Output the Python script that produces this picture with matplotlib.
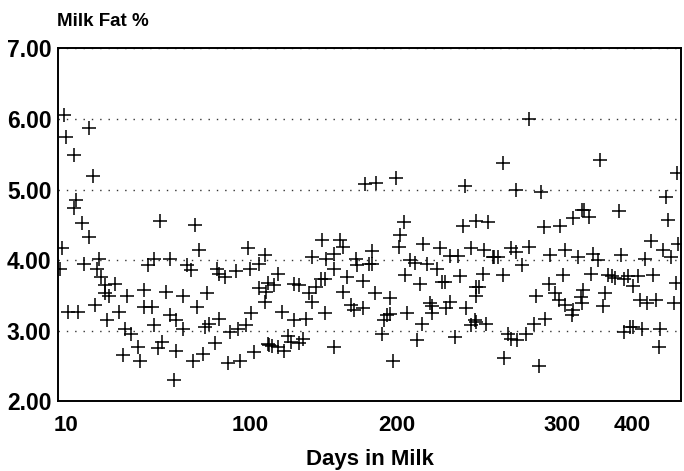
import numpy as np
import matplotlib
matplotlib.use("Agg")
import matplotlib.pyplot as plt

plt.rcParams['font.family'] = ['Liberation Sans', 'DejaVu Sans']

# days in milk / milk fat %
days = [9, 21, 10, 14, 23, 15, 14, 18, 21, 56, 8, 7, 19, 26, 25, 27, 29, 34, 29, 31,
        40, 48, 11, 16, 24, 30, 36, 48, 52, 53, 39, 42, 45, 38, 46, 55, 50, 53,
        73, 75, 61, 69, 71, 99, 110, 84, 85, 88, 93, 100, 106, 59, 67, 79, 74, 106,
        110, 61, 64, 67, 78, 80, 85, 90, 94, 98, 101, 57, 64, 72, 77, 83, 89, 95,
        103, 112, 63,
        178, 149, 161, 163, 142, 152, 157, 157, 172, 173, 181, 119, 112, 116, 130,
        133, 145, 148, 151, 140, 142, 151, 163, 166, 169, 171, 177, 177, 122, 130,
        138, 113, 115, 119, 123, 126, 128, 133, 136, 157, 111,
        186, 199, 241, 204, 202, 201, 216, 226, 232, 237, 240, 248, 245, 183, 183,
        208, 211, 218, 224, 227, 229, 238, 205, 214, 185, 195, 248, 220, 221, 232,
        230, 242, 193, 195, 206, 221, 215, 191, 190, 212, 235, 245, 247, 197, 248,
        280, 264, 272, 287, 255, 289, 299, 316, 328, 253, 258, 259, 261, 269, 272,
        280, 276, 293, 305, 323, 252, 264, 250, 284, 292, 296, 301, 298, 305, 316,
        327, 248, 254, 267, 269, 273, 278, 283, 290, 265, 286, 314,
        355, 465, 449, 452, 331, 338, 381, 427, 466, 444, 456, 345, 352, 384, 419,
        342, 366, 371, 376, 388, 395, 409, 430, 402, 463, 330, 361, 412, 421, 435,
        460, 328, 358, 389, 397, 402, 414, 440, 438]
fat = [6.05, 5.87, 5.75, 5.49, 5.19, 4.85, 4.74, 4.53, 4.33, 4.56, 4.17, 3.88, 3.94, 4.02,
       3.87, 3.76, 3.65, 3.66, 3.53, 3.50, 3.50, 3.58, 3.27, 3.27, 3.36, 3.15, 3.27, 3.34,
       3.34, 3.08, 3.03, 2.95, 2.77, 2.66, 2.58, 2.75, 3.93, 4.01,
       4.50, 4.14, 4.01, 3.93, 3.86, 4.17, 4.08, 3.87, 3.81, 3.76, 3.85, 3.87, 3.94, 3.55,
       3.49, 3.54, 3.34, 3.60, 3.41, 3.22, 3.15, 3.02, 3.06, 3.09, 3.17, 2.99, 3.03, 3.08,
       3.25, 2.84, 2.72, 2.58, 2.67, 2.83, 2.54, 2.58, 2.70, 2.81, 2.30,
       5.08, 4.29, 4.29, 4.19, 4.04, 4.02, 4.09, 3.88, 4.02, 3.93, 3.95, 3.81, 3.68, 3.65,
       3.66, 3.65, 3.62, 3.73, 3.73, 3.53, 3.41, 3.25, 3.55, 3.76, 3.36, 3.29, 3.32, 3.70,
       3.27, 3.16, 3.17, 2.80, 2.78, 2.77, 2.72, 2.92, 2.84, 2.83, 2.88, 2.77, 3.55,
       5.09, 5.16, 5.05, 4.54, 4.35, 4.19, 4.23, 4.17, 4.06, 4.06, 4.48, 4.56, 4.17, 4.13,
       3.95, 4.00, 3.96, 3.95, 3.87, 3.69, 3.69, 3.77, 3.79, 3.66, 3.53, 3.46, 3.49, 3.39,
       3.35, 3.41, 3.32, 3.32, 3.22, 3.24, 3.25, 3.25, 3.10, 3.15, 2.96, 2.87, 2.91, 3.08,
       3.15, 2.58, 3.62,
       6.00, 5.38, 4.99, 4.97, 4.54, 4.47, 4.48, 4.60, 4.71, 4.14, 4.05, 4.04, 4.04, 4.17,
       4.12, 4.19, 3.93, 4.07, 4.15, 4.04, 3.81, 3.79, 3.62, 3.50, 3.66, 3.53, 3.79, 3.43,
       3.36, 3.29, 3.48, 3.13, 3.10, 2.96, 2.89, 2.87, 2.96, 3.09, 3.17, 2.61, 2.50, 3.22,
       5.42, 5.23, 4.89, 4.57, 4.71, 4.61, 4.70, 4.27, 4.23, 4.14, 4.05, 4.09, 4.00, 4.08,
       4.02, 3.81, 3.79, 3.77, 3.75, 3.74, 3.77, 3.77, 3.79, 3.64, 3.68, 3.58, 3.53, 3.43,
       3.39, 3.44, 3.40, 3.40, 3.35, 2.99, 3.05, 3.06, 3.02, 3.03, 2.77]

tick_days = [10, 100, 200, 300, 400]
tick_labels = ['10', '100', '200', '300', '400']
y_ticks = [2, 3, 4, 5, 6, 7]

# the original x axis is not linear: where each labelled day sits on it
knot_pos = [66, 250, 397, 562, 632]


def piecewise(v, src, dst):
    v = np.asarray(v, dtype=float)
    src = np.asarray(src, dtype=float)
    dst = np.asarray(dst, dtype=float)
    lo = dst[0] + (v - src[0]) * (dst[1] - dst[0]) / (src[1] - src[0])
    hi = dst[-1] + (v - src[-1]) * (dst[-1] - dst[-2]) / (src[-1] - src[-2])
    mid = np.interp(v, src, dst)
    return np.where(v < src[0], lo, np.where(v > src[-1], hi, mid))


def fwd(d):
    return piecewise(d, tick_days, knot_pos)


def inv(p):
    return piecewise(p, knot_pos, tick_days)


fig = plt.figure(figsize=(6.84, 4.71), dpi=100)
ax = fig.add_axes([0.0855, 0.1476, 0.910, 0.750])

ax.set_xscale('function', functions=(fwd, inv))
ax.plot(days, fat, linestyle='none', marker='+', markersize=10,
        markeredgewidth=1.1, color='black', zorder=3)

ax.set_xlim(6.3, 470)
ax.set_ylim(2, 7)
ax.set_xticks(tick_days, tick_labels)
ax.set_yticks(y_ticks, ['%.2f' % v for v in y_ticks])
ax.minorticks_off()
ax.tick_params(axis='x', length=0, labelsize=16, pad=10)
ax.tick_params(axis='y', length=0, labelsize=16.5, pad=5)
for lbl in ax.get_xticklabels() + ax.get_yticklabels():
    lbl.set_fontweight('bold')

ax.grid(axis='y', linestyle=(0, (1, 5)), color='#333333', linewidth=1.0)
ax.set_axisbelow(True)
for sp in ax.spines.values():
    sp.set_linewidth(1.4)
    sp.set_color('black')

fig.text(57 / 684, 1 - 22 / 471, 'Milk Fat %', ha='left', va='center',
         fontsize=13.5, fontweight='bold')
fig.text(370 / 684, 1 - 460 / 471, 'Days in Milk', ha='center', va='center',
         fontsize=16, fontweight='bold')

fig.savefig('out.png', dpi=100)
